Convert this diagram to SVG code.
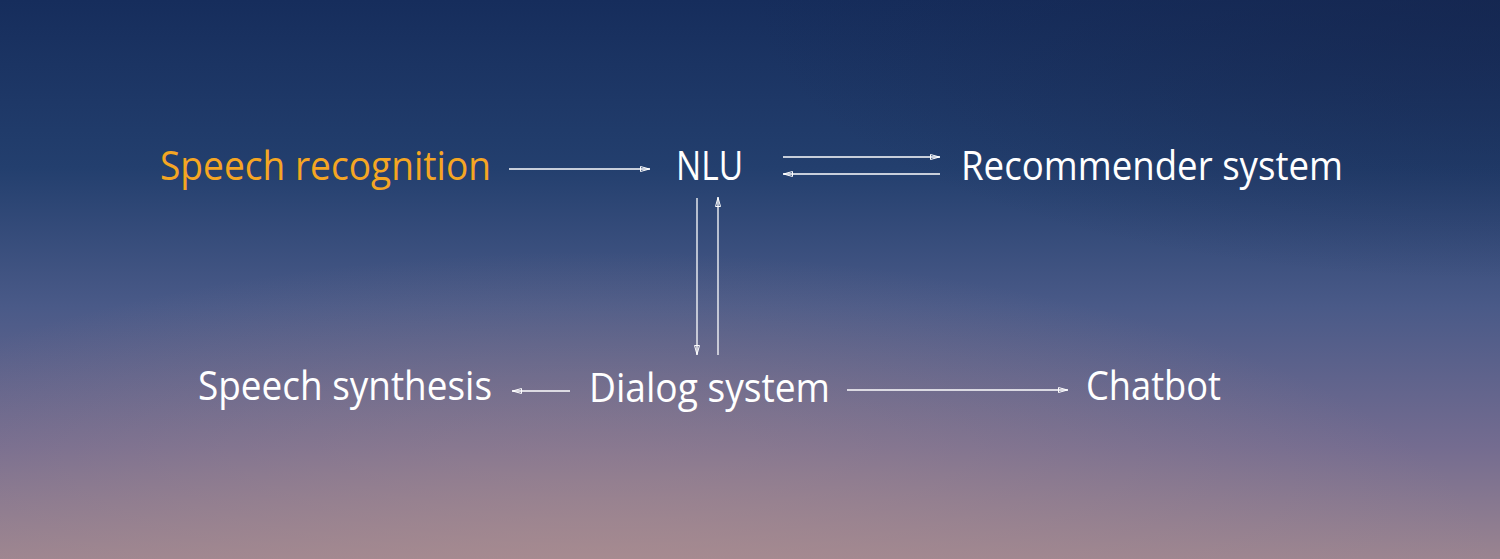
<svg xmlns="http://www.w3.org/2000/svg" width="1500" height="559" viewBox="0 0 1500 559">
<defs>
<linearGradient id="bg" x1="0" y1="0" x2="0" y2="1">
<stop offset="0" stop-color="#162d5c"/>
<stop offset="0.3" stop-color="#233f6e"/>
<stop offset="0.55" stop-color="#4a5a88"/>
<stop offset="0.8" stop-color="#746c90"/>
<stop offset="1" stop-color="#9a8490"/>
</linearGradient>
<radialGradient id="glow" cx="0.4" cy="1.05" r="0.6">
<stop offset="0" stop-color="#b09090" stop-opacity="0.6"/>
<stop offset="1" stop-color="#b09090" stop-opacity="0"/>
</radialGradient>
<radialGradient id="dark" cx="1" cy="0" r="0.5">
<stop offset="0" stop-color="#14234a" stop-opacity="0.6"/>
<stop offset="1" stop-color="#14234a" stop-opacity="0"/>
</radialGradient>
<marker id="ah" viewBox="0 0 10 6" refX="10" refY="3" markerWidth="10" markerHeight="6" markerUnits="userSpaceOnUse" orient="auto">
<path d="M0.5,0.5 L9.5,3 L0.5,5.5 Z" fill="none" stroke="#fff" stroke-width="1"/>
</marker>
<style>
text{font-family:"Open Sans","Noto Sans",sans-serif;font-size:40px;fill:#fff}
.c line{stroke:#fff;stroke-width:1.3;marker-end:url(#ah)}
</style>
</defs>
<rect width="1500" height="559" fill="url(#bg)"/>
<rect width="1500" height="559" fill="url(#glow)"/>
<rect width="1500" height="559" fill="url(#dark)"/>
<g id="speech-recognition"><text x="160" y="180" textLength="331" lengthAdjust="spacingAndGlyphs" style="fill:#f5a623">Speech recognition</text></g>
<g id="nlu"><text x="676" y="180" textLength="67" lengthAdjust="spacingAndGlyphs">NLU</text></g>
<g id="recommender"><text x="961" y="180" textLength="382" lengthAdjust="spacingAndGlyphs">Recommender system</text></g>
<g id="speech-synthesis"><text x="198" y="400" textLength="294" lengthAdjust="spacingAndGlyphs">Speech synthesis</text></g>
<g id="dialog"><text x="589" y="402" textLength="241" lengthAdjust="spacingAndGlyphs">Dialog system</text></g>
<g id="chatbot"><text x="1086" y="400" textLength="135" lengthAdjust="spacingAndGlyphs">Chatbot</text></g>
<g class="c" id="connectors">
<line x1="509" y1="169" x2="650" y2="169"/>
<line x1="783" y1="157" x2="940" y2="157"/>
<line x1="940" y1="174" x2="783" y2="174"/>
<line x1="697" y1="198" x2="697" y2="355"/>
<line x1="718" y1="355" x2="718" y2="197"/>
<line x1="570" y1="391" x2="512" y2="391"/>
<line x1="847" y1="390" x2="1068" y2="390"/>
</g>
</svg>
